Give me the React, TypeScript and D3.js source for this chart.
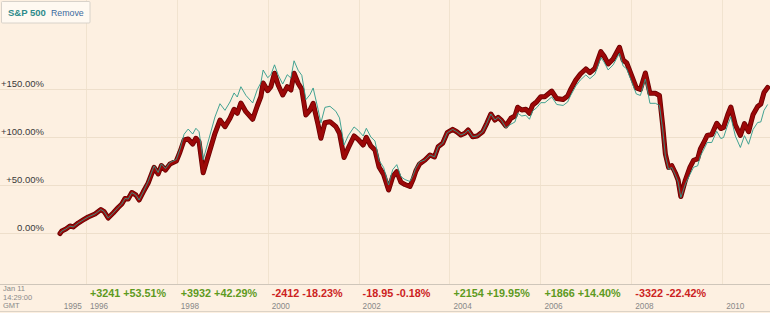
import React from "react";
import * as d3 from "d3";

const W = 770;
const H = 313;

// decimal-year dates of each point
const dates = [
  1995.43, 1995.47, 1995.56, 1995.65, 1995.72, 1995.83, 1995.94, 1996.05, 1996.2, 1996.33,
  1996.4, 1996.49, 1996.6, 1996.71, 1996.79, 1996.86, 1996.93, 1997.01, 1997.1, 1997.17,
  1997.26, 1997.37, 1997.5, 1997.59, 1997.66, 1997.75, 1997.85, 1997.99, 1998.07, 1998.16,
  1998.25, 1998.35, 1998.42, 1998.49, 1998.58, 1998.73, 1998.84, 1998.95, 1999.06, 1999.17,
  1999.26, 1999.33, 1999.41, 1999.52, 1999.67, 1999.77, 1999.85, 1999.9, 2000.0, 2000.07,
  2000.15, 2000.23, 2000.33, 2000.43, 2000.51, 2000.58, 2000.67, 2000.75, 2000.84, 2000.93,
  2001.0, 2001.11, 2001.17, 2001.26, 2001.37, 2001.5, 2001.58, 2001.68, 2001.77, 2001.9,
  2001.99, 2002.1, 2002.17, 2002.27, 2002.36, 2002.45, 2002.55, 2002.66, 2002.75, 2002.84,
  2002.93, 2003.02, 2003.13, 2003.2, 2003.26, 2003.34, 2003.46, 2003.57, 2003.67, 2003.75,
  2003.85, 2003.95, 2004.07, 2004.16, 2004.25, 2004.34, 2004.41, 2004.51, 2004.61, 2004.73,
  2004.82, 2004.91, 2005.0, 2005.07, 2005.15, 2005.24, 2005.35, 2005.44, 2005.5, 2005.59,
  2005.68, 2005.76, 2005.83, 2005.92, 2006.01, 2006.1, 2006.25, 2006.36, 2006.5, 2006.6,
  2006.66, 2006.78, 2006.88, 2007.0, 2007.09, 2007.2, 2007.33, 2007.4, 2007.49, 2007.6,
  2007.74, 2007.82, 2007.9, 2008.01, 2008.11, 2008.2, 2008.31, 2008.41, 2008.53, 2008.62,
  2008.69, 2008.75, 2008.82, 2008.89, 2008.97, 2009.03, 2009.09, 2009.19, 2009.29, 2009.37,
  2009.46, 2009.52, 2009.59, 2009.67, 2009.77, 2009.88, 2009.97, 2010.03, 2010.12, 2010.19,
  2010.29, 2010.4, 2010.49, 2010.58, 2010.68, 2010.78, 2010.85, 2010.92, 2011.0,
];

// main series (% change)
const mainValues = [
  0.0, 2.6, 4.7, 7.8, 6.8, 10.9, 14.1, 17.2, 20.3, 25.0,
  22.9, 16.1, 21.4, 27.1, 30.7, 36.5, 35.9, 42.7, 40.1, 34.9,
  43.2, 52.6, 68.8, 62.0, 70.8, 66.1, 72.4, 75.5, 84.9, 97.4,
  98.4, 93.2, 99.2, 95.6, 63.3, 87.0, 104.4, 118.2, 111.3, 120.0,
  129.4, 125.2, 135.9, 126.9, 119.0, 132.8, 142.5, 156.8, 148.8, 152.9,
  166.9, 154.7, 144.3, 152.9, 149.5, 166.9, 156.5, 150.2, 123.4, 128.6,
  135.6, 113.0, 99.2, 115.4, 116.5, 111.3, 104.4, 79.2, 88.8, 101.6,
  98.1, 92.2, 100.2, 91.1, 87.0, 69.3, 61.5, 45.3, 59.2, 64.4,
  53.6, 51.0, 49.0, 56.5, 65.1, 72.4, 76.6, 81.8, 79.7, 90.4,
  94.0, 105.0, 108.5, 106.0, 102.6, 104.4, 107.8, 100.8, 101.6, 106.0,
  114.8, 124.5, 118.2, 121.0, 117.5, 112.0, 120.0, 122.4, 131.5, 128.6,
  129.4, 125.2, 133.9, 137.3, 142.5, 142.5, 148.4, 140.6, 139.6, 143.2,
  149.5, 159.9, 166.1, 171.4, 167.5, 172.1, 189.4, 184.9, 176.6, 181.8,
  194.0, 180.7, 177.6, 164.1, 151.6, 150.0, 167.2, 146.0, 146.0, 143.8,
  113.0, 82.8, 68.8, 70.8, 63.0, 55.7, 38.5, 55.7, 68.8, 76.3,
  77.8, 88.0, 94.3, 102.1, 103.1, 114.8, 109.3, 110.4, 123.4, 131.8,
  113.0, 102.1, 114.4, 106.0, 124.0, 132.3, 134.9, 146.9, 152.1,
];

// S&P 500 comparison (% change)
const spValues = [
  0.0, 2.6, 4.7, 7.8, 6.8, 10.9, 14.1, 17.2, 20.3, 25.0,
  22.9, 16.1, 21.4, 27.1, 30.7, 36.5, 35.9, 42.7, 40.1, 34.9,
  43.2, 54.2, 70.4, 63.6, 72.4, 67.7, 74.0, 77.1, 87.9, 103.4,
  108.8, 103.6, 109.6, 106.0, 76.8, 102.6, 121.4, 135.2, 128.3, 137.0,
  146.4, 142.2, 152.9, 143.9, 136.0, 149.8, 157.1, 170.3, 162.3, 165.4,
  175.7, 165.1, 155.7, 165.4, 162.0, 179.9, 170.0, 164.8, 139.4, 144.6,
  151.6, 129.0, 115.2, 131.4, 132.5, 127.3, 120.4, 92.2, 101.8, 111.0,
  107.5, 101.6, 109.6, 100.5, 96.4, 76.1, 68.8, 50.5, 66.5, 71.7,
  59.3, 56.2, 54.2, 60.7, 68.2, 74.5, 76.6, 81.8, 79.7, 90.4,
  94.0, 105.0, 108.5, 106.0, 102.6, 104.4, 107.8, 100.8, 101.6, 106.0,
  114.8, 124.5, 118.2, 121.0, 117.5, 110.0, 113.8, 116.2, 125.3, 122.4,
  123.2, 119.0, 127.7, 131.1, 136.3, 136.3, 142.2, 134.4, 133.4, 137.0,
  143.3, 153.7, 159.9, 165.2, 161.3, 165.9, 183.2, 178.7, 170.4, 175.6,
  187.8, 174.5, 171.4, 157.9, 145.4, 143.8, 161.0, 135.6, 135.6, 133.4,
  108.8, 80.8, 66.8, 68.8, 61.0, 53.7, 37.5, 51.5, 61.5, 69.0,
  70.5, 80.7, 87.0, 94.8, 94.8, 106.5, 98.9, 100.0, 113.0, 121.4,
  101.5, 89.6, 101.9, 93.0, 108.4, 115.6, 116.2, 128.2, 134.4,
];

const yTicks = [0, 50, 100, 150];
const yTickLabels = ["0.00%", "+50.00%", "+100.00%", "+150.00%"];
const yearTicks = [1996, 1998, 2000, 2002, 2004, 2006, 2008, 2010];
const yearLabels = ["1996", "1998", "2000", "2002", "2004", "2006", "2008", "2010"];
const changeYears = [1996, 1998, 2000, 2002, 2004, 2006, 2008];
const changeLabels = [
  "+3241 +53.51%",
  "+3932 +42.29%",
  "-2412 -18.23%",
  "-18.95 -0.18%",
  "+2154 +19.95%",
  "+1866 +14.40%",
  "-3322 -22.42%",
];

const FONT = "'Liberation Sans', Arial, sans-serif";

export default function App() {
  const x = d3.scaleLinear().domain([1995.43, 2011.03]).range([60, 769]);
  const y = d3.scaleLinear().domain([0, 150]).range([233.5, 89.5]);

  const mainPts: [number, number][] = dates.map((d, i) => [d, mainValues[i]]);
  const spPts: [number, number][] = dates.map((d, i) => [d, spValues[i]]);
  const line = d3
    .line<[number, number]>()
    .x((d) => x(d[0]))
    .y((d) => y(d[1]))
    .curve(d3.curveLinear);

  const sepY = 284.5;

  return (
    <svg
      width={W}
      height={H}
      style={{ position: "absolute", left: 0, top: 0, display: "block" }}
      fontFamily={FONT}
    >
      <rect x={0} y={0} width={W} height={H} fill="#FDF0E1" />
      {/* vertical grid */}
      {yearTicks.map((t) => (
        <line
          key={"v" + t}
          x1={Math.round(x(t)) + 0.5}
          x2={Math.round(x(t)) + 0.5}
          y1={0}
          y2={sepY}
          stroke="#F1E3CF"
          strokeWidth={1}
        />
      ))}
      {/* horizontal grid */}
      {yTicks.map((t) => (
        <line
          key={"h" + t}
          x1={0}
          x2={W}
          y1={y(t)}
          y2={y(t)}
          stroke="#EEDFCB"
          strokeWidth={1}
        />
      ))}
      {/* y labels */}
      {yTicks.map((t, i) => (
        <text
          key={"yl" + t}
          x={44}
          y={y(t) - 2.5}
          textAnchor="end"
          fontSize={9.5}
          fill="#3a3a3a"
        >
          {yTickLabels[i]}
        </text>
      ))}
      {/* main series */}
      <path d={line(mainPts) || ""} fill="none" stroke="#6a0000" strokeWidth={5} strokeLinejoin="round" strokeLinecap="round" />
      <path d={line(mainPts) || ""} fill="none" stroke="#9c0808" strokeWidth={3.4} strokeLinejoin="round" strokeLinecap="round" />
      {/* S&P 500 */}
      <path d={line(spPts) || ""} fill="none" stroke="#2f9a8a" strokeWidth={1} strokeOpacity={0.9} strokeLinejoin="round" />

      {/* bottom strip */}
      <line x1={0} x2={W} y1={sepY} y2={sepY} stroke="#CFC6BA" strokeWidth={1} />
      <line x1={0} x2={W} y1={311.5} y2={311.5} stroke="#DDD3C6" strokeWidth={1} />
      <text x={3} y={291} fontSize={7.5} fill="#888">Jan 11</text>
      <text x={3} y={299.5} fontSize={7.5} fill="#888">14:29:00</text>
      <text x={3} y={308} fontSize={7.5} fill="#888">GMT</text>
      <text x={x(1996) - 4} y={308.5} fontSize={8.2} fill="#888" textAnchor="end">1995</text>
      {yearTicks.map((t, i) => (
        <text key={"yr" + t} x={x(t) + 4} y={308.5} fontSize={8.2} fill="#888">
          {yearLabels[i]}
        </text>
      ))}
      {changeYears.map((t, i) => (
        <text
          key={"c" + t}
          x={x(t) + 4}
          y={297}
          fontSize={10.8}
          fontWeight="bold"
          fill={changeLabels[i].startsWith("-") ? "#CC2222" : "#5E9A1E"}
        >
          {changeLabels[i]}
        </text>
      ))}

      {/* legend box */}
      <rect x={1.5} y={1.5} width={88.5} height={21.5} fill="#FFF9F1" stroke="#D8D2CA" strokeWidth={1} rx={1} />
      <text x={8} y={16} fontSize={9.5} fontWeight="bold" fill="#2E8B8B">S&amp;P 500</text>
      <text x={51} y={16} fontSize={8.8} fill="#3A6AA0">Remove</text>
    </svg>
  );
}
